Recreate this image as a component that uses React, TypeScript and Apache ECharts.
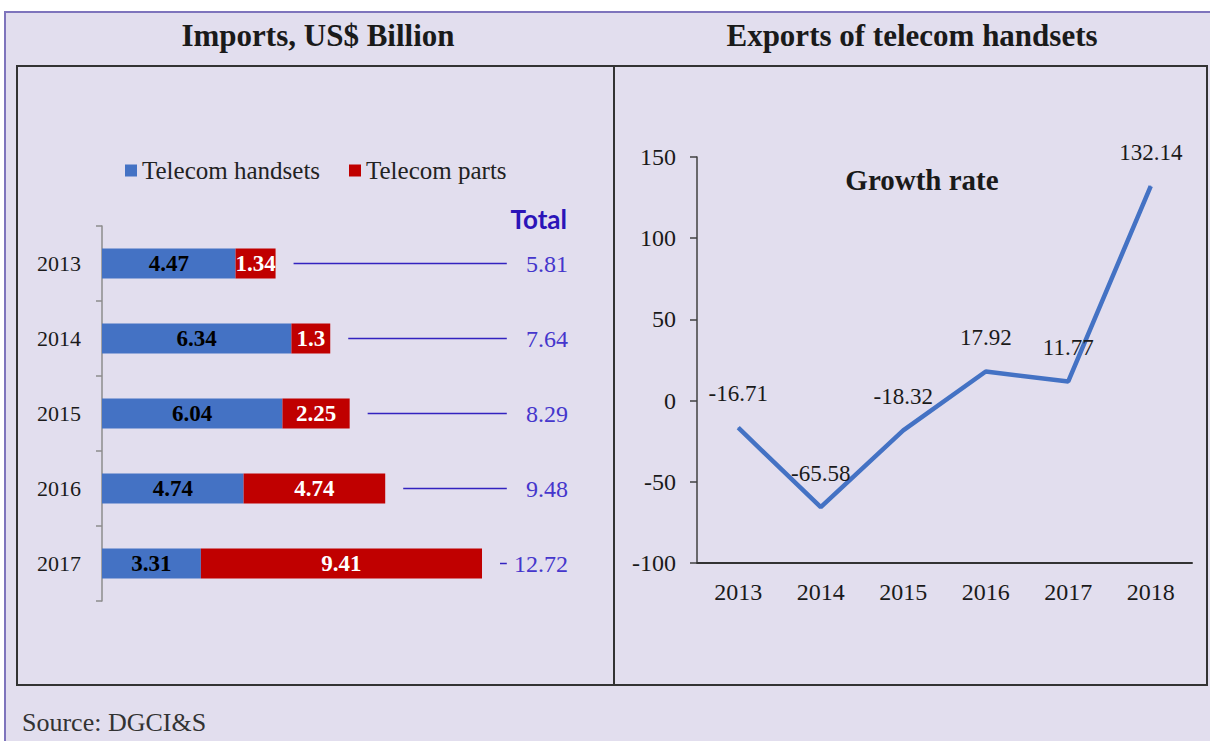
import React, { useEffect, useRef } from 'react';
import * as echarts from 'echarts';

const importYears = ['2013', '2014', '2015', '2016', '2017'];
const handsets = [4.47, 6.34, 6.04, 4.74, 3.31];
const parts = [1.34, 1.3, 2.25, 4.74, 9.41];
const totals = [5.81, 7.64, 8.29, 9.48, 12.72];

const growthYears = ['2013', '2014', '2015', '2016', '2017', '2018'];
const growth = [-16.71, -65.58, -18.32, 17.92, 11.77, 132.14];

const SERIF = '"Liberation Serif", "Times New Roman", serif';
const SANS = 'Lato, "Open Sans", sans-serif';
const LINE_END = 13.55;
const LABEL_END = 15.6;

export default function App() {
  const ref = useRef<HTMLDivElement>(null);
  useEffect(() => {
    document.body.style.margin = '0';
    const chart = echarts.init(ref.current!, null, { renderer: 'svg' });
    chart.setOption({
      animation: false,
      backgroundColor: '#ffffff',
      graphic: [
        { type: 'rect', z: -10, shape: { x: 5, y: 12, width: 1210, height: 740 }, style: { fill: '#E2DEEE', stroke: '#7E74BC', lineWidth: 2 } },
        { type: 'rect', shape: { x: 17, y: 66, width: 597, height: 619 }, style: { fill: 'none', stroke: '#333333', lineWidth: 2 } },
        { type: 'rect', shape: { x: 614, y: 66, width: 593, height: 619 }, style: { fill: 'none', stroke: '#333333', lineWidth: 2 } },
        { type: 'text', x: 318, y: 35, style: { text: 'Imports, US$ Billion', fill: '#1a1a1a', font: `bold 31px ${SERIF}`, align: 'center', verticalAlign: 'middle' } },
        { type: 'text', x: 912, y: 35, style: { text: 'Exports of telecom handsets', fill: '#1a1a1a', font: `bold 31px ${SERIF}`, align: 'center', verticalAlign: 'middle' } },
        { type: 'text', x: 922, y: 180, style: { text: 'Growth rate', fill: '#1a1a1a', font: `bold 29px ${SERIF}`, align: 'center', verticalAlign: 'middle' } },
        { type: 'text', x: 567, y: 219, style: { text: 'Total', fill: '#2B14B8', font: `bold 26px ${SANS}`, align: 'right', verticalAlign: 'middle' } },
        { type: 'text', x: 22, y: 722, style: { text: 'Source: DGCI&S', fill: '#333333', font: `26px ${SERIF}`, align: 'left', verticalAlign: 'middle' } },
      ],
      legend: [
        { data: ['Telecom handsets'], left: 120, top: 153, icon: 'rect', itemWidth: 12, itemHeight: 12, itemGap: 5, selectedMode: false, textStyle: { fontFamily: SERIF, fontSize: 25, color: '#222222' } },
        { data: ['Telecom parts'], left: 344, top: 153, icon: 'rect', itemWidth: 12, itemHeight: 12, itemGap: 5, selectedMode: false, textStyle: { fontFamily: SERIF, fontSize: 25, color: '#222222' } },
      ],
      grid: [
        { left: 102, top: 226, width: 478, height: 375 },
        { left: 697, top: 157, width: 495, height: 406 },
      ],
      xAxis: [
        { type: 'value', gridIndex: 0, min: 0, max: 16, show: false },
        {
          type: 'category', gridIndex: 1, data: growthYears, boundaryGap: true,
          axisLine: { onZero: false, lineStyle: { color: '#333333', width: 2 } },
          axisTick: { show: false },
          axisLabel: { margin: 17, fontFamily: SERIF, fontSize: 24, color: '#1a1a1a' },
        },
      ],
      yAxis: [
        {
          type: 'category', gridIndex: 0, data: importYears, inverse: true,
          axisLine: { lineStyle: { color: '#8C8C8C', width: 1.5 } },
          axisTick: { show: true, length: 6, lineStyle: { color: '#8C8C8C', width: 1.5 } },
          axisLabel: { margin: 21, fontFamily: SERIF, fontSize: 22, color: '#1a1a1a' },
        },
        {
          type: 'value', gridIndex: 1, min: -100, max: 150, interval: 50,
          axisLine: { show: true, lineStyle: { color: '#404040', width: 1.5 } },
          axisTick: { show: true, length: 7, lineStyle: { color: '#404040', width: 1.5 } },
          splitLine: { show: false },
          axisLabel: { margin: 21, fontFamily: SERIF, fontSize: 24, color: '#1a1a1a' },
        },
      ],
      series: [
        {
          name: 'Telecom handsets', type: 'bar', stack: 'imp', xAxisIndex: 0, yAxisIndex: 0,
          data: handsets, barCategoryGap: '60%',
          itemStyle: { color: '#4472C4' },
          label: { show: true, position: 'inside', fontFamily: SERIF, fontWeight: 'bold', fontSize: 23, color: '#000000' },
        },
        {
          name: 'Telecom parts', type: 'bar', stack: 'imp', xAxisIndex: 0, yAxisIndex: 0,
          data: parts, barCategoryGap: '60%',
          itemStyle: { color: '#C00000' },
          label: { show: true, position: 'inside', fontFamily: SERIF, fontWeight: 'bold', fontSize: 23, color: '#ffffff' },
        },
        {
          name: 'Total', type: 'custom', xAxisIndex: 0, yAxisIndex: 0,
          data: totals.map((t, i) => [t, i]),
          encode: { x: 0, y: 1 },
          renderItem: (params: any, api: any) => {
            const t = api.value(0);
            const idx = api.value(1);
            const p = api.coord([t, idx]);
            const e = api.coord([LINE_END, idx]);
            const l = api.coord([LABEL_END, idx]);
            return {
              type: 'group',
              children: [
                { type: 'line', shape: { x1: p[0] + 18, y1: p[1], x2: e[0], y2: e[1] }, style: { stroke: '#3323C0', lineWidth: 1.5 } },
                { type: 'text', x: l[0], y: l[1], style: { text: String(t), fill: '#4536CC', fontFamily: SERIF, fontSize: 24, align: 'right', verticalAlign: 'middle' } },
              ],
            };
          },
        },
        {
          name: 'Growth rate', type: 'line', xAxisIndex: 1, yAxisIndex: 1,
          data: growth, symbol: 'circle', symbolSize: 1, showSymbol: true,
          lineStyle: { color: '#4472C4', width: 4.5 },
          itemStyle: { color: '#4472C4' },
          label: { show: true, position: 'top', distance: 22, fontFamily: SERIF, fontSize: 23, color: '#1a1a1a' },
        },
      ],
    });
    return () => chart.dispose();
  }, []);
  return <div ref={ref} style={{ width: 1210, height: 741 }} />;
}
